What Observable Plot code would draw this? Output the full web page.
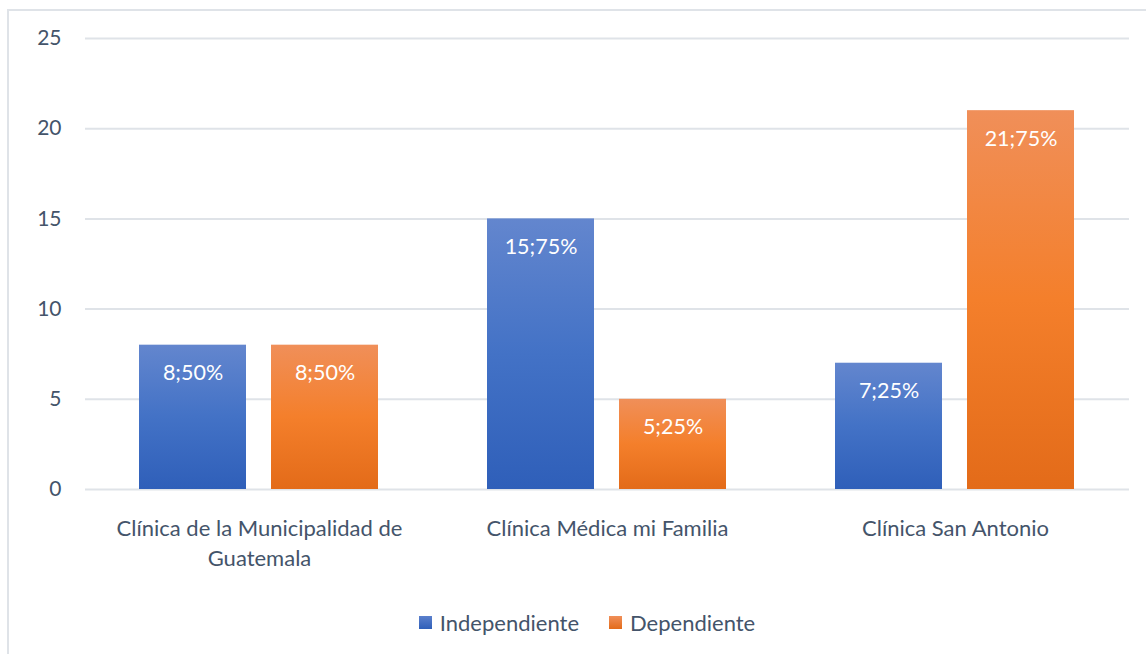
<!DOCTYPE html>
<html>
<head>
<meta charset="utf-8">
<script src="https://cdn.jsdelivr.net/npm/d3@7"></script>
<script src="https://cdn.jsdelivr.net/npm/@observablehq/plot@0.6"></script>
<style>
  html, body { margin: 0; padding: 0; background: #fff; }
  #frame { position: absolute; left: 7px; top: 9px; width: 1160px; height: 660px;
           border-left: 2px solid #dfe3e8; border-top: 2px solid #dfe3e8; }
  #chart { position: absolute; left: 0; top: 0; }
  #legend { position: absolute; left: 14px; top: 609px; width: 1146px; display: flex; justify-content: center;
            font-family: Lato, "Open Sans", sans-serif; font-size: 22px; color: #44546a; }
  .item { display: flex; align-items: center; margin: 0 15px; }
  .sw { width: 13px; height: 13px; margin-right: 8px; }
</style>
</head>
<body>
<div id="frame"></div>
<div id="chart"></div>
<div id="legend"></div>
<script>
const categories = ["Clínica de la Municipalidad de Guatemala", "Clínica Médica mi Familia", "Clínica San Antonio"];
const categoryLabels = ["Clínica de la Municipalidad de\nGuatemala", "Clínica Médica mi Familia", "Clínica San Antonio"];
const series = ["Independiente", "Dependiente"];
const independiente = [8, 15, 7];
const dependiente = [8, 5, 21];
const pctIndependiente = ["50%", "75%", "25%"];
const pctDependiente = ["50%", "25%", "75%"];
const yTicks = [0, 5, 10, 15, 20, 25];

const data = [];
categories.forEach((c, i) => {
  data.push({cat: c, s: series[0], v: independiente[i], label: independiente[i] + ";" + pctIndependiente[i]});
  data.push({cat: c, s: series[1], v: dependiente[i], label: dependiente[i] + ";" + pctDependiente[i]});
});

const font = "Lato, 'Open Sans', sans-serif";
const ink = "#44546a";

const plot = Plot.plot({
  width: 1146,
  height: 600,
  marginLeft: 84,
  marginRight: 16,
  marginTop: 38,
  marginBottom: 111,
  style: {fontFamily: font, fontSize: "21px", color: ink, background: "transparent"},
  fx: {domain: categories, padding: 0, label: null, axis: null},
  x: {domain: series, paddingInner: 0.188, paddingOuter: 0.406, axis: null},
  y: {domain: [0, 25], ticks: yTicks, label: null},
  marks: [
    Plot.gridY(yTicks, {stroke: "#dfe3e8", strokeOpacity: 1, strokeWidth: 2}),
    Plot.axisY(yTicks, {tickSize: 0, tickPadding: 24, fontSize: 21, fill: ink, label: null}),
    Plot.axisFx({anchor: "bottom", tickSize: 0, tickPadding: 25, fontSize: 22, fill: ink, label: null, lineHeight: 1.36,
      tickFormat: d => categoryLabels[categories.indexOf(d)]}),
    Plot.barY(data.filter(d => d.s === series[0]), {fx: "cat", x: "s", y: "v", fill: "url(#gBlue)"}),
    Plot.barY(data.filter(d => d.s === series[1]), {fx: "cat", x: "s", y: "v", fill: "url(#gOrange)"}),
    Plot.text(data, {fx: "cat", x: "s", y: "v", text: "label", dy: 28, fill: "white", fontSize: 21.5})
  ]
});

const defs = d3.select(plot).insert("defs", ":first-child");
function grad(id, stops) {
  const g = defs.append("linearGradient").attr("id", id).attr("x1", 0).attr("y1", 0).attr("x2", 0).attr("y2", 1);
  stops.forEach(([o, c]) => g.append("stop").attr("offset", o).attr("stop-color", c));
}
grad("gBlue", [[0, "#6386ce"], [0.5, "#4372c6"], [1, "#2f5fb9"]]);
grad("gOrange", [[0, "#f08f59"], [0.5, "#f47f2b"], [1, "#e36b19"]]);

document.getElementById("chart").appendChild(plot);

const swatchBg = ["linear-gradient(#5b80cc, #2f5fb9)", "linear-gradient(#f08f59, #e36b19)"];
const legend = d3.select("#legend");
series.forEach((s, i) => {
  const it = legend.append("div").attr("class", "item");
  it.append("div").attr("class", "sw").style("background", swatchBg[i]);
  it.append("span").text(s);
});
</script>
</body>
</html>
